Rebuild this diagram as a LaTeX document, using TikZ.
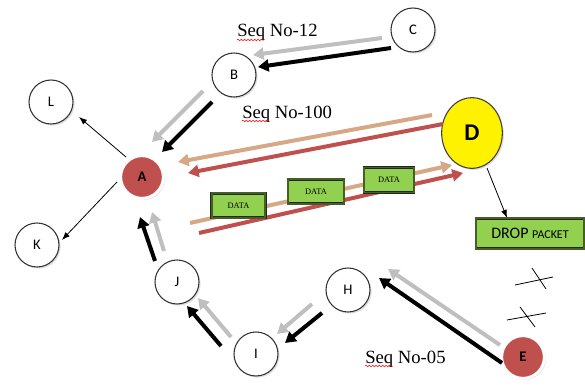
\documentclass[tikz,border=0pt]{standalone}
\usepackage{fontspec}
\setmainfont{Liberation Serif}
\newfontfamily\calfont{Carlito}
\usetikzlibrary{arrows.meta}
\usetikzlibrary{shapes.geometric,shadows}
\usetikzlibrary{decorations.pathmorphing}
\usepackage{xcolor}
\definecolor{nodered}{RGB}{192,80,77}
\definecolor{arrowtan}{RGB}{214,168,134}
\definecolor{arrowgray}{RGB}{191,191,191}
\definecolor{boxgreen}{RGB}{146,208,80}
\definecolor{boxedge}{RGB}{70,95,35}

\tikzset{
  host/.style={circle, draw=black!80, line width=0.8pt, fill=white, minimum size=33pt,
    inner sep=0pt, font=\calfont\fontsize{11}{11}\selectfont,
    drop shadow={shadow xshift=1.2pt, shadow yshift=-1.2pt, opacity=0.25}},
  bad/.style={host, draw=white, line width=2.2pt, fill=nodered, minimum size=32pt,
    font=\calfont\bfseries\fontsize{11}{11}\selectfont},
  sink/.style={ellipse, draw=black!75, line width=0.8pt, fill=yellow, minimum width=45.5pt,
    minimum height=53pt, inner sep=0pt, font=\calfont\bfseries\fontsize{18}{18}\selectfont,
    drop shadow={shadow xshift=1.2pt, shadow yshift=-1.2pt, opacity=0.25}},
  packet/.style={rectangle, draw=black!85, line width=0.5pt, double=boxedge, double distance=1.1pt,
    fill=boxgreen, minimum width=40pt, minimum height=18.5pt, inner sep=0pt,
    font=\fontsize{6.3}{6.3}\selectfont},
  seqlabel/.style={anchor=base west, inner sep=0pt, font=\fontsize{14}{14}\selectfont},
  spell/.style={draw=red, line width=0.4pt, decorate,
    decoration={snake, amplitude=0.6pt, segment length=2.5pt}},
  fat/.style={line width=3pt, -{Triangle[length=8pt,width=9pt]}},
  thin/.style={line width=0.6pt, -{Latex[length=6pt,width=4.5pt]}}
}

\begin{document}
\begin{tikzpicture}[x=0.75pt,y=-0.75pt]
  \useasboundingbox (0,0) rectangle (585,385);

  % nodes
  \node[host] (L) at (51,102) {L};
  \node[host] (B) at (234,75) {B};
  \node[host] (C) at (413,30) {C};
  \node[bad] (A) at (142,177) {A};
  \node[host] (K) at (37,245) {K};
  \node[host] (J) at (177,282) {J};
  \node[host] (I) at (256,354) {I};
  \node[host] (H) at (348,290) {H};
  \node[bad] (E) at (523,357) {E};
  \node[sink] (D) at (472,133) {D};
  \node[packet, minimum width=81pt, minimum height=23pt, font=\calfont\fontsize{12}{12}\selectfont]
    (drop) at (530,233.5) {DROP {\fontsize{9}{9}\selectfont PACKET}};

  % sequence numbers
  \node[seqlabel] (s12) at (237,37) {Seq No-12};
  \node[seqlabel] (s100) at (242,118) {Seq No-100};
  \node[seqlabel] (s05) at (365,363) {Seq No-05};
  \foreach \s in {s12,s100,s05}
    \draw[spell] ([shift={(0,3)}]\s.base west) -- ++(27,0);

  % route replies back to A
  \draw[fat, arrowgray] ([shift={(-31,8)}]C.center) -- ([shift={(19,-20)}]B.center);
  \draw[fat, black] ([shift={(-22,18)}]C.center) -- ([shift={(24,-8)}]B.center);
  \draw[fat, arrowgray] ([shift={(-31,16)}]B.center) -- ([shift={(10,-35)}]A.center);
  \draw[fat, black] ([shift={(-22,27)}]B.center) -- ([shift={(20,-25)}]A.center);

  \draw[fat, arrowgray] ([shift={(-23,-12)}]E.center) -- ([shift={(40,-21)}]H.center);
  \draw[fat, black] ([shift={(-21,6)}]E.center) -- ([shift={(31,-12)}]H.center);
  \draw[fat, arrowgray] ([shift={(-36,14)}]H.center) -- ([shift={(21,-20)}]I.center);
  \draw[fat, black] ([shift={(-26,23)}]H.center) -- ([shift={(29,-11)}]I.center);
  \draw[fat, arrowgray] ([shift={(-25,-17)}]I.center) -- ([shift={(21,16)}]J.center);
  \draw[fat, black] ([shift={(-35,-8)}]I.center) -- ([shift={(10,24)}]J.center);
  \draw[fat, arrowgray] ([shift={(-13,-31)}]J.center) -- ([shift={(10,35)}]A.center);
  \draw[fat, black] ([shift={(-22,-21)}]J.center) -- ([shift={(-2,40)}]A.center);

  % black hole D
  \draw[fat, arrowtan] ([shift={(-40,-18)}]D.center) -- ([shift={(36,-15)}]A.center);
  \draw[fat, nodered] ([shift={(-29,-9)}]D.center) -- ([shift={(46,-4)}]A.center);
  \draw[fat, arrowtan] ([shift={(48,46)}]A.center) -- ([shift={(-20,32)}]D.center);
  \draw[fat, nodered] ([shift={(57,56)}]A.center) -- ([shift={(-9,40)}]D.center);

  \node[packet] (data1) at (238.5,205.5) {DATA};
  \node[packet, minimum width=42pt] (data2) at (316,191.5) {DATA};
  \node[packet, minimum width=37.5pt] (data3) at (389,180) {DATA};

  \draw[thin] ([shift={(15,35)}]D.center) -- ([shift={(-23,0)}]drop.north);
  \draw[thin] ([shift={(-16,-20)}]A.center) -- ([shift={(28,15)}]L.center);
  \draw[thin] ([shift={(-25,5)}]A.center) -- ([shift={(25,-5)}]K.center);

  % broken links
  \draw[line width=0.6pt] (515,285) -- (553,277) (532,268) -- (546,289);
  \draw[line width=0.6pt] (507,320) -- (546,313) (520,307) -- (535,327);
\end{tikzpicture}
\end{document}
